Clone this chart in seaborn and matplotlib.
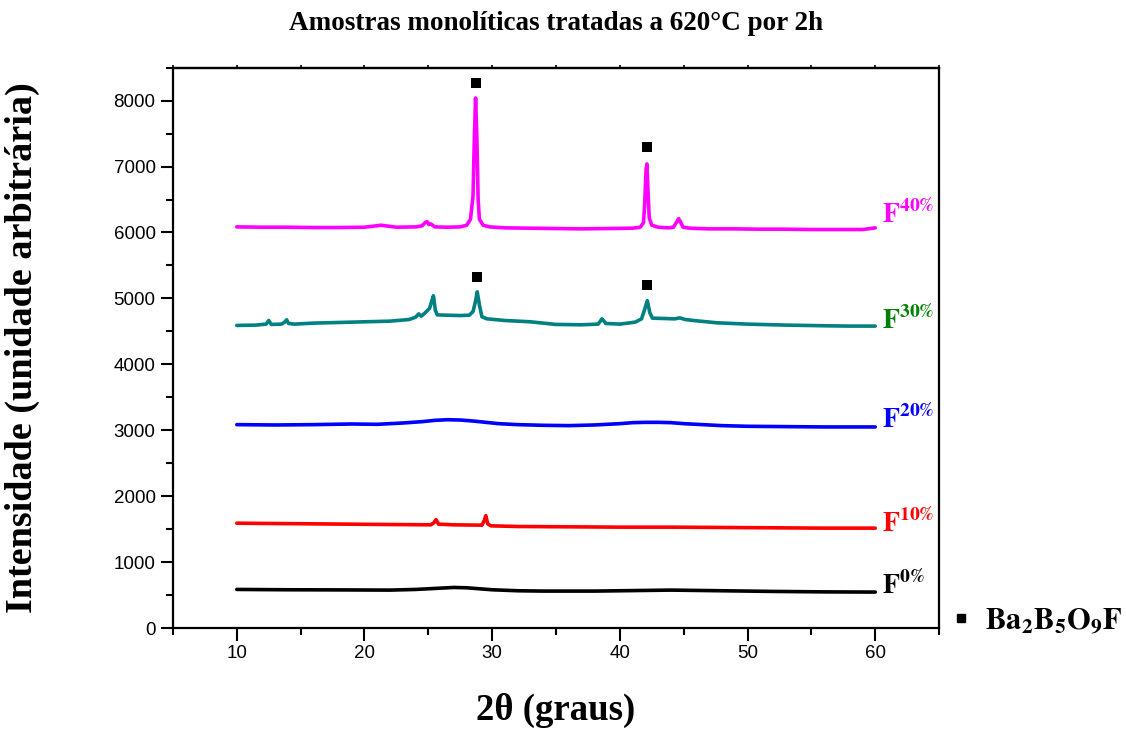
import matplotlib
matplotlib.use("Agg")
import matplotlib.pyplot as plt
import seaborn as sns
import pandas as pd
from matplotlib.lines import Line2D
from matplotlib.ticker import MultipleLocator

# ---------------- data ----------------
x_f40 = [10, 12, 14, 16, 18, 20, 21.3, 22.5, 24, 24.5, 24.75, 24.9, 25.05, 25.2, 25.5,
         26.5, 27.5, 28.0, 28.3, 28.5, 28.6, 28.7, 28.8, 28.9, 29.0, 29.3, 29.8, 31, 33,
         35, 37, 39, 41, 41.6, 41.85, 41.95, 42.05, 42.12, 42.2, 42.3, 42.5, 43, 43.8,
         44.2, 44.45, 44.6, 44.75, 44.95, 45.5, 47, 49, 51, 53, 55, 57, 59, 60]
y_f40 = [6085, 6080, 6080, 6075, 6075, 6080, 6110, 6080, 6085, 6100, 6150, 6165, 6120,
         6130, 6085, 6080, 6085, 6110, 6200, 6550, 7400, 8040, 7450, 6500, 6200, 6110,
         6085, 6070, 6065, 6060, 6055, 6060, 6065, 6080, 6150, 6450, 6950, 7040, 6650,
         6220, 6110, 6080, 6070, 6080, 6160, 6210, 6160, 6080, 6065, 6055, 6055, 6050,
         6050, 6045, 6045, 6045, 6070]

x_f30 = [10, 11.5, 12.3, 12.5, 12.7, 13.5, 13.75, 13.9, 14.05, 14.5, 16, 18, 20, 22,
         23.5, 24.0, 24.25, 24.45, 24.8, 25.1, 25.3, 25.4, 25.55, 25.7, 26.5, 27.5, 28.2,
         28.5, 28.7, 28.83, 29.0, 29.2, 29.6, 31, 33, 35, 37, 38.3, 38.6, 38.9, 40, 41.2,
         41.7, 41.95, 42.15, 42.35, 42.55, 43.5, 44.3, 44.7, 45.1, 46, 47.6, 50, 53, 56,
         58, 60]
y_f30 = [4590, 4595, 4610, 4665, 4605, 4610, 4640, 4675, 4620, 4610, 4625, 4635, 4645,
         4655, 4680, 4715, 4765, 4730, 4790, 4850, 4980, 5040, 4820, 4750, 4745, 4740,
         4745, 4800, 4960, 5100, 4900, 4720, 4690, 4665, 4645, 4605, 4600, 4610, 4690,
         4620, 4610, 4640, 4690, 4840, 4965, 4780, 4700, 4695, 4690, 4705, 4680, 4660,
         4630, 4610, 4595, 4585, 4580, 4580]

x_f20 = [10, 13, 16, 19, 21, 23, 24.5, 25.5, 26.5, 27.5, 28.5, 29.5, 30.5, 32, 34, 36,
         38, 40, 41, 42, 43, 44, 45, 46.5, 48, 50, 53, 56, 60]
y_f20 = [3085, 3080, 3085, 3095, 3090, 3110, 3130, 3150, 3160, 3155, 3140, 3120, 3100,
         3085, 3075, 3070, 3080, 3100, 3115, 3120, 3120, 3115, 3100, 3085, 3070, 3060,
         3055, 3050, 3050]

x_f10 = [10, 13, 16, 19, 22, 25.2, 25.45, 25.6, 25.8, 27, 29.2, 29.4, 29.5, 29.65, 29.9,
         32, 36, 40, 44, 48, 52, 56, 60]
y_f10 = [1590, 1585, 1580, 1575, 1570, 1565, 1600, 1645, 1575, 1565, 1560, 1640, 1705,
         1580, 1550, 1540, 1535, 1530, 1530, 1525, 1520, 1515, 1515]

x_f0 = [10, 14, 18, 22, 24, 26, 27, 28, 29, 30, 32, 34, 38, 42, 44, 48, 52, 56, 60]
y_f0 = [585, 580, 578, 575, 585, 605, 615, 610, 595, 580, 565, 560, 560, 570, 575, 565,
        555, 548, 545]

series_names = ["F0", "F10", "F20", "F30", "F40"]
series_sup = ["0%", "10%", "20%", "30%", "40%"]
line_colors = ["#000000", "#ff0000", "#0000ff", "#008080", "#ff00ff"]
label_colors = ["#000000", "#ff0000", "#0000ff", "#008000", "#ff00ff"]
label_y = [640, 1580, 3160, 4660, 6270]

peak_x = [28.7, 42.1, 28.85, 42.1]
peak_y = [8270, 7300, 5320, 5205]
phase_name = r"$\mathbf{Ba_2B_5O_9F}$"

title = "Amostras monolíticas tratadas a 620°C por 2h"
xlabel = "2θ (graus)"
ylabel = "Intensidade (unidade arbitrária)"

# ---------------- build long table ----------------
xs = [x_f0, x_f10, x_f20, x_f30, x_f40]
ys = [y_f0, y_f10, y_f20, y_f30, y_f40]
rows = []
for name, xv, yv in zip(series_names, xs, ys):
    for a, b in zip(xv, yv):
        rows.append((name, a, b))
df = pd.DataFrame(rows, columns=["amostra", "x", "y"])
peaks = pd.DataFrame({"x": peak_x, "y": peak_y})

# ---------------- plot ----------------
sns.set_theme(style="ticks")
plt.rcParams["font.family"] = ["Liberation Sans", "DejaVu Sans"]
plt.rcParams["mathtext.fontset"] = "stix"
plt.rcParams["text.color"] = "black"
plt.rcParams["axes.labelcolor"] = "black"
plt.rcParams["xtick.color"] = "black"
plt.rcParams["ytick.color"] = "black"

fig = plt.figure(figsize=(11.26, 7.31), dpi=100)
ax = fig.add_axes([0.1536, 0.1409, 0.6804, 0.7665])

sns.lineplot(data=df, x="x", y="y", hue="amostra", hue_order=series_names,
             palette=dict(zip(series_names, line_colors)), estimator=None, sort=False,
             linewidth=2.6, legend=False, ax=ax)
sns.scatterplot(data=peaks, x="x", y="y", marker="s", color="black", s=48,
                linewidth=0, ax=ax, zorder=5)

for sup, col, ly in zip(series_sup, label_colors, label_y):
    ax.text(60.5, ly, r"$\mathbf{F^{%s}}$" % sup.replace("%", r"\%"), color=col,
            fontsize=20, ha="left", va="center", clip_on=False)

ax.set_xlim(5, 65)
ax.set_ylim(0, 8500)
ax.xaxis.set_major_locator(MultipleLocator(10))
ax.xaxis.set_minor_locator(MultipleLocator(5))
ax.yaxis.set_major_locator(MultipleLocator(1000))
ax.yaxis.set_minor_locator(MultipleLocator(500))
ax.tick_params(which="major", direction="out", length=9, width=1.5, labelsize=13.5,
               color="black", labelcolor="black")
ax.tick_params(which="minor", direction="out", length=5, width=1.5, color="black")
for s in ax.spines.values():
    s.set_linewidth(1.6)
    s.set_color("black")

top = ax.secondary_xaxis("top")
top.xaxis.set_major_locator(MultipleLocator(5))
top.tick_params(direction="out", length=2, width=1.2, labelsize=0, labeltop=False)
top.spines["top"].set_linewidth(1.6)

ax.set_xlabel(xlabel, fontfamily="Liberation Serif", fontweight="bold", fontsize=26.5,
              color="black")
ax.xaxis.set_label_coords(0.5, -0.115)
ax.set_ylabel(ylabel, fontfamily="Liberation Serif", fontweight="bold", fontsize=27.5,
              color="black")
ax.yaxis.set_label_coords(-0.174, 0.5)
ax.set_title(title, fontfamily="Liberation Serif", fontweight="bold", fontsize=19.5,
             pad=27, color="black")

handle = Line2D([], [], marker="s", color="black", linestyle="none", markersize=6)
leg = ax.legend([handle], [phase_name], loc="center left",
                bbox_to_anchor=(954 / 1126, 1 - 621 / 731), bbox_transform=fig.transFigure,
                frameon=False, fontsize=22, handletextpad=0.55, handlelength=0.45,
                borderpad=0, borderaxespad=0)
for t in leg.get_texts():
    t.set_color("black")

fig.savefig("out.png", dpi=100)
